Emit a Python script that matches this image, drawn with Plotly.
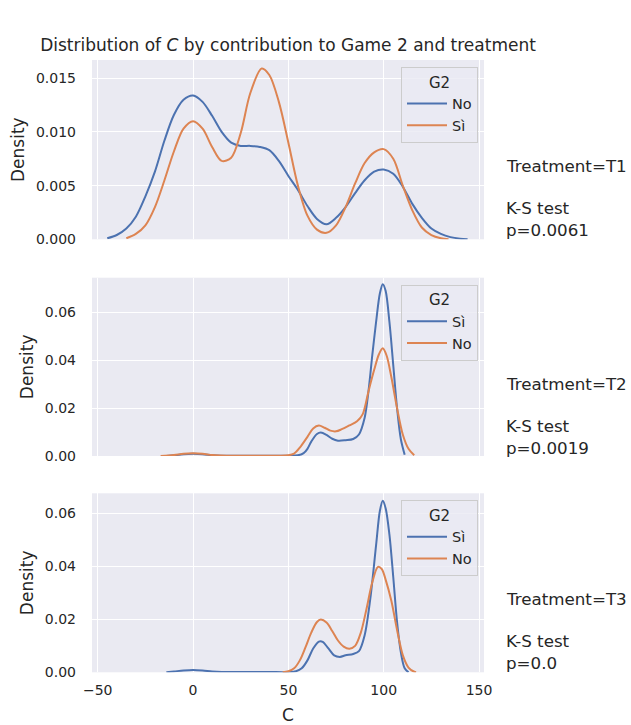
import plotly.graph_objects as go

# ---------------- data ----------------
t1_no_x = [-45, -40, -35, -30, -25, -20, -15, -10, -5, 0, 5, 10, 15, 20, 25, 30, 35, 40, 45, 50,
           55, 60, 65, 70, 75, 80, 85, 90, 95, 100, 105, 110, 115, 120, 125, 130, 135, 140, 144]
t1_no_y = [0.0001, 0.0004, 0.0010, 0.0021, 0.0040, 0.0063, 0.0092, 0.0116, 0.0130, 0.0134, 0.0128,
           0.0115, 0.0100, 0.0090, 0.0087, 0.0087, 0.0086, 0.0083, 0.0073, 0.0059,
           0.0046, 0.0031, 0.0019, 0.0014, 0.0020, 0.0030, 0.0043, 0.0055, 0.0063, 0.0065, 0.0061,
           0.0049, 0.0033, 0.0020, 0.0010, 0.0005, 0.0002, 0.00005, 0.0]

t1_si_x = [-35, -30, -25, -20, -15, -10, -5, 0, 5, 10, 15, 20, 25, 30, 36, 40, 45, 50, 55, 60,
           65, 70, 75, 80, 85, 90, 95, 100, 105, 110, 115, 120, 125, 130, 134]
t1_si_y = [0.0001, 0.0005, 0.0013, 0.0030, 0.0055, 0.0082, 0.0103, 0.0110, 0.0103, 0.0086, 0.0073,
           0.0076, 0.0099, 0.0136, 0.0159, 0.0153, 0.0128, 0.0090, 0.0050, 0.0022,
           0.0009, 0.0006, 0.0013, 0.0030, 0.0052, 0.0071, 0.0081, 0.0084, 0.0075, 0.0050, 0.0027,
           0.0011, 0.0004, 0.0001, 0.0]

t2_si_x = [-14, -10, -5, 0, 5, 10, 15, 20, 30, 40, 50, 55, 58, 60, 62, 65, 67, 70, 73, 76, 80, 84,
           87, 90, 92, 94, 96, 98, 99.5, 101, 103, 105, 107, 109, 111]
t2_si_y = [0.0, 0.0003, 0.0007, 0.0009, 0.0007, 0.0003, 0.0001, 0.0001, 0.0001, 0.0001, 0.0001,
           0.0003, 0.0012, 0.0030, 0.0060, 0.0092, 0.0098, 0.0088, 0.0072, 0.0064, 0.0066, 0.0071,
           0.0090, 0.0160, 0.0270, 0.0420, 0.0560, 0.0680, 0.0718, 0.0690, 0.0560, 0.0380, 0.0200,
           0.0070, 0.0005]

t2_no_x = [-17, -10, -5, 0, 5, 10, 15, 20, 30, 45, 50, 53, 56, 60, 63, 66, 69, 72, 75, 78, 82, 86,
           89, 92, 95, 97.5, 99.5, 101.5, 104, 107, 110, 113, 116]
t2_no_y = [0.0, 0.0004, 0.0009, 0.0011, 0.0009, 0.0004, 0.0002, 0.0001, 0.0001, 0.0001, 0.0003,
           0.0010, 0.0035, 0.0080, 0.0115, 0.0127, 0.0118, 0.0106, 0.0103, 0.0112, 0.0128, 0.0145,
           0.0175, 0.0270, 0.0360, 0.0425, 0.0450, 0.0420, 0.0330, 0.0200, 0.0090, 0.0030, 0.0003]

t3_si_x = [-14, -10, -5, 0, 5, 10, 15, 25, 40, 50, 54, 57, 60, 63, 66, 68, 71, 74, 77, 80, 84, 87,
           90, 93, 96, 98, 99.5, 101, 103, 105, 107, 109, 111, 113]
t3_si_y = [0.0, 0.0003, 0.0007, 0.0009, 0.0007, 0.0003, 0.0001, 0.0001, 0.0001, 0.0001, 0.0004,
           0.0015, 0.0045, 0.0090, 0.0116, 0.0115, 0.0090, 0.0064, 0.0058, 0.0064, 0.0069, 0.0080,
           0.0140, 0.0280, 0.0480, 0.0610, 0.0648, 0.0620, 0.0520, 0.0360, 0.0190, 0.0075, 0.0015, 0.0]

t3_no_x = [47, 50, 53, 56, 59, 62, 65, 67, 70, 73, 76, 79, 82, 85, 88, 91, 94, 97, 99, 101, 104,
           107, 110, 113, 116, 117]
t3_no_y = [0.0, 0.0004, 0.0015, 0.0045, 0.0095, 0.0150, 0.0190, 0.0199, 0.0188, 0.0156, 0.0120,
           0.0097, 0.0089, 0.0100, 0.0150, 0.0240, 0.0340, 0.0398, 0.0390, 0.0350, 0.0270,
           0.0160, 0.0065, 0.0018, 0.0002, 0.0]

treatments = ["T1", "T2", "T3"]
ks_pvalues = ["0.0061", "0.0019", "0.0"]
x_ticks = [-50, 0, 50, 100, 150]
y_ticks_t1 = [0.000, 0.005, 0.010, 0.015]
y_ticks_t23 = [0.00, 0.02, 0.04, 0.06]

# ---------------- styling ----------------
W, H = 631, 725
BLUE = "#4C72B0"
ORANGE = "#DD8452"
BG = "#EAEAF2"
TXT = "#262626"
FONT = "DejaVu Sans"


def py(p):
    return 1 - p / H


panels = [(60, 239.3), (277.7, 456.0), (493.3, 672.3)]
xdom = [92 / W, 484 / W]
xrange_ = [-53.0, 152.6]
yranges = [[0, 0.0167], [0, 0.0745], [0, 0.0676]]

series = [
    [("No", t1_no_x, t1_no_y, BLUE), ("Sì", t1_si_x, t1_si_y, ORANGE)],
    [("Sì", t2_si_x, t2_si_y, BLUE), ("No", t2_no_x, t2_no_y, ORANGE)],
    [("Sì", t3_si_x, t3_si_y, BLUE), ("No", t3_no_x, t3_no_y, ORANGE)],
]

fig = go.Figure()
for i, group in enumerate(series):
    sfx = "" if i == 0 else str(i + 1)
    for name, xs, ys, col in group:
        fig.add_trace(go.Scatter(
            x=xs, y=ys, mode="lines", name=name,
            line=dict(color=col, width=2, shape="spline", smoothing=0.9),
            xaxis="x" + sfx, yaxis="y" + sfx,
            legend="legend" + sfx,
        ))

layout = dict(
    width=W, height=H,
    margin=dict(l=0, r=0, t=0, b=0, autoexpand=False),
    paper_bgcolor="white",
    plot_bgcolor=BG,
    font=dict(family=FONT, color=TXT, size=14),
    title=dict(text="Distribution of <i>C</i> by contribution to Game 2 and treatment",
               xref="container", yref="container",
               x=288 / W, xanchor="center", y=py(45), yanchor="middle",
               font=dict(size=17, color=TXT, family=FONT)),
    annotations=[],
)

for i, (top, bot) in enumerate(panels):
    sfx = "" if i == 0 else str(i + 1)
    last = i == 2
    layout["xaxis" + sfx] = dict(
        domain=xdom, anchor="y" + sfx, range=xrange_,
        tickvals=x_ticks, showticklabels=last,
        showgrid=True, gridcolor="white", gridwidth=1.3,
        zeroline=False, showline=False, ticks="", automargin=False,
        ticklabelstandoff=8,
        tickfont=dict(size=14, color=TXT),
        title=dict(text="C", font=dict(size=17, color=TXT), standoff=12) if last else None,
    )
    if i == 0:
        yt = dict(tickvals=y_ticks_t1, tickformat=".3f")
    else:
        yt = dict(tickvals=y_ticks_t23, tickformat=".2f")
    layout["yaxis" + sfx] = dict(
        domain=[py(bot), py(top)], anchor="x" + sfx, range=yranges[i],
        showgrid=True, gridcolor="white", gridwidth=1.3,
        zeroline=False, showline=False, ticks="", automargin=False,
        ticklabelstandoff=15,
        tickfont=dict(size=14, color=TXT),
        title=dict(text="Density", font=dict(size=17, color=TXT), standoff=6),
        **yt,
    )
    layout["legend" + sfx] = dict(
        x=478 / W, xanchor="right", y=py(top + 7), yanchor="top",
        bgcolor="rgba(234,234,242,0.8)", bordercolor="#CCCCCC", borderwidth=1,
        title=dict(text="G2", side="top center", font=dict(size=15, color=TXT)),
        font=dict(size=14.5, color=TXT),
        tracegroupgap=0, itemwidth=40,
    )
    layout["annotations"].append(dict(
        text="Treatment=" + treatments[i], xref="paper", yref="paper",
        x=504 / W, xanchor="left", y=py(top + 106), yanchor="middle",
        showarrow=False, font=dict(size=16.7, color=TXT), align="left",
    ))
    layout["annotations"].append(dict(
        text="K-S test<br>p=" + ks_pvalues[i], xref="paper", yref="paper",
        x=504 / W, xanchor="left", y=py(top + 159), yanchor="middle",
        showarrow=False, font=dict(size=16.7, color=TXT), align="left",
    ))

fig.update_layout(**layout)
fig.write_html(
    "out.html",
    config={"displayModeBar": False},
    post_script="document.body.style.margin='0';document.body.style.overflow='hidden';"
                "document.documentElement.style.overflow='hidden';",
)
